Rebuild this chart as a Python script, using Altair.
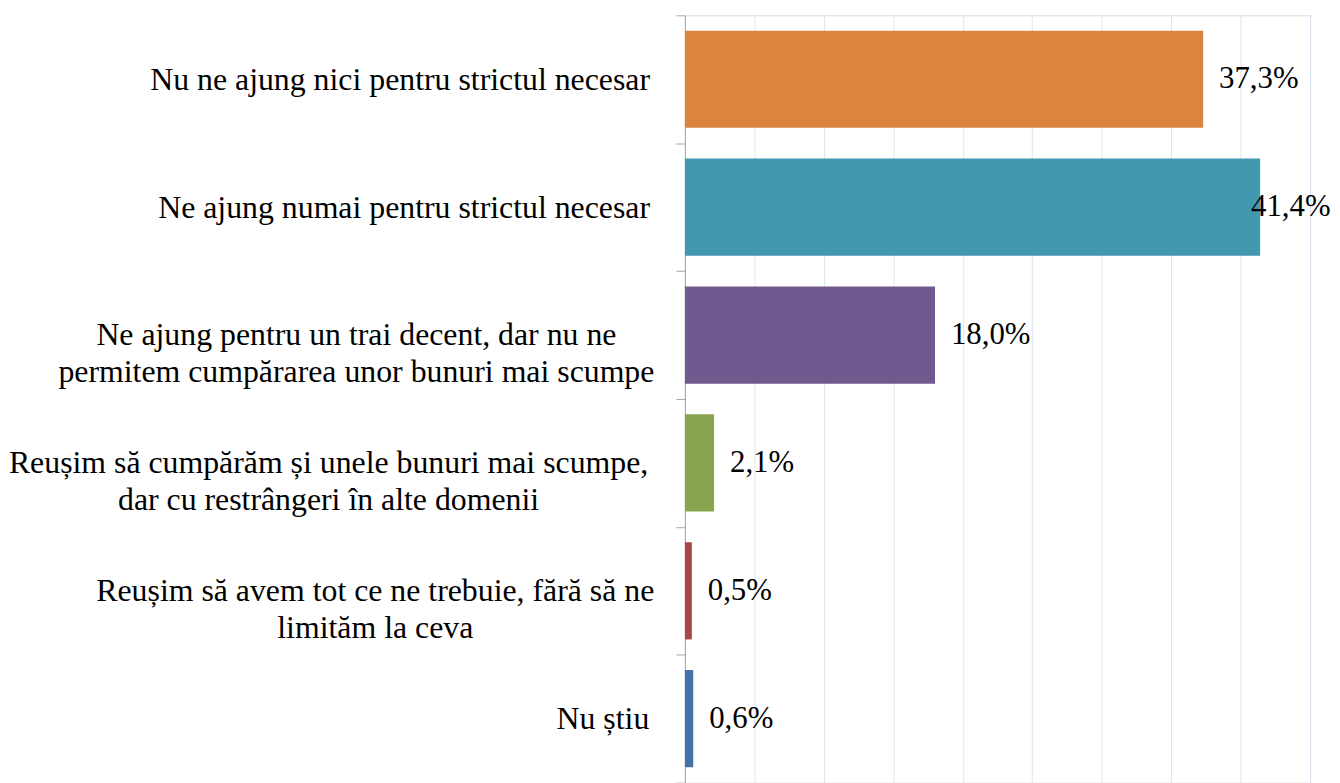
import altair as alt
import pandas as pd

categories = [
    "Nu ne ajung nici pentru strictul necesar",
    "Ne ajung numai pentru strictul necesar",
    "Ne ajung pentru un trai decent, dar nu ne\npermitem cumpărarea unor bunuri mai scumpe",
    "Reușim să cumpărăm și unele bunuri mai scumpe,\ndar cu restrângeri în alte domenii",
    "Reușim să avem tot ce ne trebuie, fără să ne\nlimităm la ceva",
    "Nu știu",
]
values = [37.3, 41.4, 18.0, 2.1, 0.5, 0.6]
colors = ["#DB843D", "#4198AF", "#71588F", "#89A54E", "#AA4643", "#4572A7"]
x_ticks = [0, 5, 10, 15, 20, 25, 30, 35, 40, 45]

# horizontal distance (px) from the axis to the centre of each label block, minus tick size
label_pad = [278, 274, 322, 350, 303, 74]

df = pd.DataFrame({
    "cat": categories,
    "value": values,
    "label": [f"{v:.1f}".replace(".", ",") + "%" for v in values],
})

font = "Liberation Serif"
pad_expr = "[" + ",".join(str(p) for p in label_pad) + "][indexof(domain('y'), datum.value)]"

y_enc = alt.Y(
    "cat:N",
    sort=categories,
    scale=alt.Scale(paddingInner=0, paddingOuter=0),
    axis=alt.Axis(
        title=None,
        domainColor="#A6A6A6",
        tickColor="#A6A6A6",
        tickSize=9,
        tickBand="extent",
        grid=False,
        labelFont=font,
        labelFontSize=32,
        labelColor="#000000",
        labelAlign="center",
        labelBaseline="middle",
        labelLineHeight=37,
        labelLimit=1000,
        labelPadding={"expr": pad_expr},
        labelExpr="split(datum.label, '\\n')",
    ),
)

x_enc = alt.X(
    "value:Q",
    scale=alt.Scale(domain=[0, 45], nice=False, zero=True),
    axis=alt.Axis(
        title=None,
        values=x_ticks,
        labels=False,
        ticks=False,
        domain=False,
        grid=True,
        gridColor="#DCE4F2",
        gridWidth=1,
    ),
)

bars = alt.Chart(df).mark_bar(height={"band": 0.76}).encode(
    y=y_enc,
    x=x_enc,
    color=alt.Color("cat:N", scale=alt.Scale(domain=categories, range=colors), legend=None),
)

text = alt.Chart(df).transform_calculate(
    lx="min(datum.value, 39.6)"
).mark_text(
    align="left", baseline="middle", dx=16, font=font, fontSize=31, color="#000000"
).encode(
    y=alt.Y("cat:N", sort=categories),
    x=alt.X("lx:Q"),
    text="label:N",
)

chart = alt.layer(bars, text).properties(
    width=629,
    height=772,
    autosize=alt.AutoSizeParams(type="none"),
    padding={"left": 681, "top": 5, "right": 22, "bottom": 0},
).configure_view(stroke=None).configure(background="white")

chart.save("out.html", embed_options={"renderer": "svg", "actions": False})
